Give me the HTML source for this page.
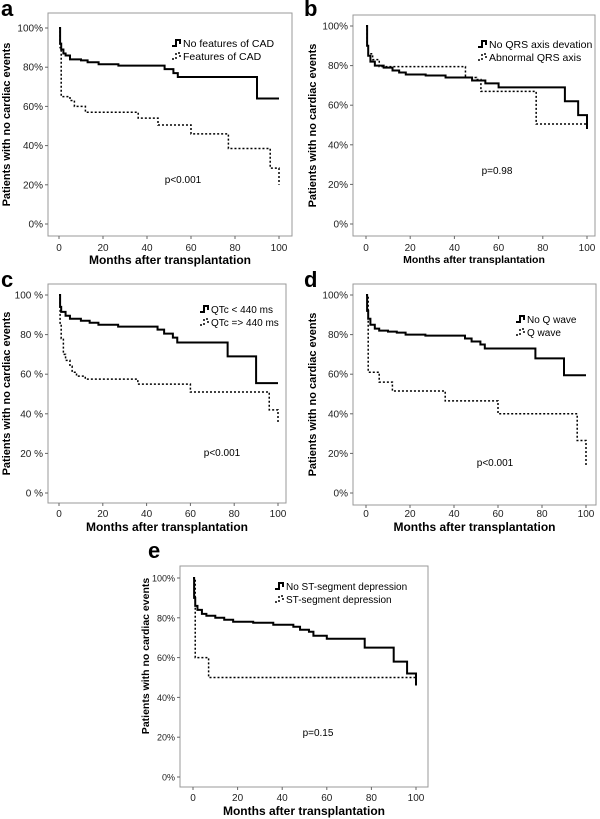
<!DOCTYPE html>
<html><head><meta charset="utf-8">
<style>
html,body{margin:0;padding:0;background:#fff;}
svg{display:block;font-family:"Liberation Sans",Arial,sans-serif;}
</style></head>
<body>
<svg id="fig" width="600" height="819" viewBox="0 0 600 819" xmlns="http://www.w3.org/2000/svg"></svg>
<script>
const yTicks = [0,20,40,60,80,100];
const xTicks = [0,20,40,60,80,100];
// Panel a
const aSolidT = [0,0.5,1,2,3,5,10,13,18,27,48,52,54,90,100];
const aSolidS = [100,92,89,87,86,84,83.5,82.5,81.5,80.8,79,77,75,64,64];
const aDotT = [0,0.5,1,5,7,12,36,45,60,77,96,100];
const aDotS = [100,90,65,63,60,57,54,50.5,46,38.5,28.5,20];
// Panel b
const bSolidT = [0,0.5,1,2,4,8,12,15,18,27,36,48,54,60,90,96,100];
const bSolidS = [100,90,85,82,80,79,77.5,76.5,75.5,75,74,72.5,71,69,62,55,48];
const bDotT = [0,0.5,1,3,6,45,50,52,77,100];
const bDotS = [100,90,86,83,79.5,74,73,67,50.5,50];
// Panel c
const cSolidT = [0,0.5,1,3,5,10,14,18,27,45,48,52,54,77,90,100];
const cSolidS = [100,94,91.5,89.5,88,87,86,85,84,82.5,80.5,78.5,76,69,55.5,55.5];
const cDotT = [0,0.5,1,2,3,5,6,8,12,36,60,96,100];
const cDotS = [100,85,78,70,67,64,61,59,57.5,55,51,42,35];
// Panel d
const dSolidT = [0,0.5,1,2,4,6,10,14,18,27,45,48,52,54,77,90,100];
const dSolidS = [100,92,88,85,83,82,81.5,81,80,79.5,78,76.5,75,73,68,59.5,59.5];
const dDotT = [0,1,6,12,36,60,96,100];
const dDotS = [100,61,56,51.5,46.5,40,26.5,14];
// Panel e
const eSolidT = [0,0.5,1,2,4,6,10,14,18,27,36,45,48,52,54,60,77,90,96,100];
const eSolidS = [100,90,86,84,82,81,80,79,78,77.5,76.5,75.5,74,73,71,69.5,65,58,52,46];
const eDotT = [0,1,7,100];
const eDotS = [100,60,50,50];

const NS="http://www.w3.org/2000/svg";
const fig=document.getElementById('fig');
function mk(tag,attrs,parent){const e=document.createElementNS(NS,tag);for(const k in attrs)e.setAttribute(k,attrs[k]);(parent||fig).appendChild(e);return e;}

function panel(p){
  const g=mk('g',{});
  
  
  const sx=v=>p.x0+(p.x1-p.x0)*v/100;
  const sy=v=>p.y0+(p.y100-p.y0)*v/100;
  const fr=mk('rect',{x:p.fl,y:p.ft,width:p.fr-p.fl,height:p.fb-p.ft,fill:'none',stroke:'#999','stroke-width':1},g);
  
  
  const lt=mk('text',{x:p.lx,y:p.ly,'font-size':22,'font-weight':'bold'},g);lt.textContent=p.id;
  
  
  yTicks.forEach(v=>{
    mk('line',{x1:p.fl-3,x2:p.fl,y1:sy(v),y2:sy(v),stroke:'#666'},g);
    const t=mk('text',{x:p.fl-5,y:sy(v)+3.5,'font-size':p.tfs||10,'text-anchor':'end',fill:'#222'},g);
    t.textContent=v+(p.pctSpace?' %':'%');
    
    
  });
  xTicks.forEach(v=>{
    mk('line',{x1:sx(v),x2:sx(v),y1:p.fb,y2:p.fb+3,stroke:'#666'},g);
    const t=mk('text',{x:sx(v),y:p.xly,'font-size':10,'text-anchor':'middle',fill:'#222'},g);
    t.textContent=v;
    
    
  });
  const xt=mk('text',{x:(p.fl+p.fr)/2,y:p.xty,'font-size':p.xtfs,'font-weight':'bold','text-anchor':'middle'},g);
  xt.textContent='Months after transplantation';
  
  
  const yc=p.ytc||(p.ft+p.fb)/2;
  const yt=mk('text',{x:0,y:0,'font-size':p.ytfs||11,'font-weight':'bold','text-anchor':'middle',transform:`translate(${p.ytx},${yc}) rotate(-90)`},g);
  yt.textContent='Patients with no cardiac events';
  
  
  function step(T,S,dash,name){
    let d='M'+sx(T[0])+','+sy(S[0]);
    for(let i=1;i<T.length;i++){d+=' H'+sx(T[i])+' V'+sy(S[i]);}
    const a={d:d,fill:'none',stroke:'#000','stroke-width':dash?1.5:2};
    if(dash)a['stroke-dasharray']='2,2';
    const e=mk('path',a,g);
    
    
  }
  step(p.sT,p.sS,false,'series-solid');
  step(p.dT,p.dS,true,'series-dotted');
  const lg=mk('g',{},g);
  
  
  mk('path',{d:`M${p.gx},${p.gy+3} H${p.gx+4} V${p.gy-3} H${p.gx+8} V${p.gy+1}`,fill:'none',stroke:'#000','stroke-width':2},lg);
  mk('path',{d:`M${p.gx},${p.gy+16} H${p.gx+4} V${p.gy+10} H${p.gx+8} V${p.gy+14}`,fill:'none',stroke:'#000','stroke-width':1.5,'stroke-dasharray':'2,2'},lg);
  const l1=mk('text',{x:p.gx+11,y:p.gy+4,'font-size':p.lfs},lg);l1.textContent=p.l1;
  
  
  const l2=mk('text',{x:p.gx+11,y:p.gy+17,'font-size':p.lfs},lg);l2.textContent=p.l2;
  
  
  const pv=mk('text',{x:p.px,y:p.py,'font-size':10,'text-anchor':'middle'},g);pv.textContent=p.pt;
  
  
}

panel({id:'a',fl:48,ft:13,fr:292,fb:236,x0:59,x1:279,y0:224,y100:28,lx:1,ly:16,xly:251,xty:264,xtfs:12,ytx:10,
  sT:aSolidT,sS:aSolidS,dT:aDotT,dS:aDotS,gx:172,gy:43,lfs:10.5,l1:'No features of CAD',l2:'Features of CAD',px:183,py:183,pt:'p<0.001'});
panel({id:'b',fl:353,ft:15,fr:595,fb:236,x0:366,x1:587,y0:224,y100:26,lx:304,ly:16,xly:251,xty:263,xtfs:10.5,ytx:316,
  sT:bSolidT,sS:bSolidS,dT:bDotT,dS:bDotS,gx:478,gy:44,lfs:10.5,l1:'No QRS axis devation',l2:'Abnormal QRS axis',px:497,py:174,pt:'p=0.98'});
panel({id:'c',fl:48,ft:284,fr:286,fb:503,x0:59,x1:278,y0:493,y100:295,lx:1,ly:287,xly:517,xty:531,xtfs:12,ytx:10,pctSpace:true,
  sT:cSolidT,sS:cSolidS,dT:cDotT,dS:cDotS,gx:200,gy:309,lfs:10,l1:'QTc < 440 ms',l2:'QTc => 440 ms',px:222,py:456,pt:'p<0.001'});
panel({id:'d',fl:353,ft:284,fr:596,fb:505,x0:366,x1:586,y0:493,y100:295,lx:304,ly:287,xly:517,xty:531,xtfs:12,ytx:316,
  sT:dSolidT,sS:dSolidS,dT:dDotT,dS:dDotS,gx:516,gy:319,lfs:10,l1:'No Q wave',l2:'Q wave',px:495,py:466,pt:'p<0.001'});
panel({id:'e',fl:180,ft:566,fr:428,fb:787,x0:193,x1:416,y0:777,y100:578,lx:148,ly:558,xly:801,xty:815,xtfs:12,ytx:149,ytc:656,ytfs:10.5,tfs:9,
  sT:eSolidT,sS:eSolidS,dT:eDotT,dS:eDotS,gx:275,gy:586,lfs:10,l1:'No ST-segment depression',l2:'ST-segment depression',px:318,py:736,pt:'p=0.15'});
</script>
</body></html>
